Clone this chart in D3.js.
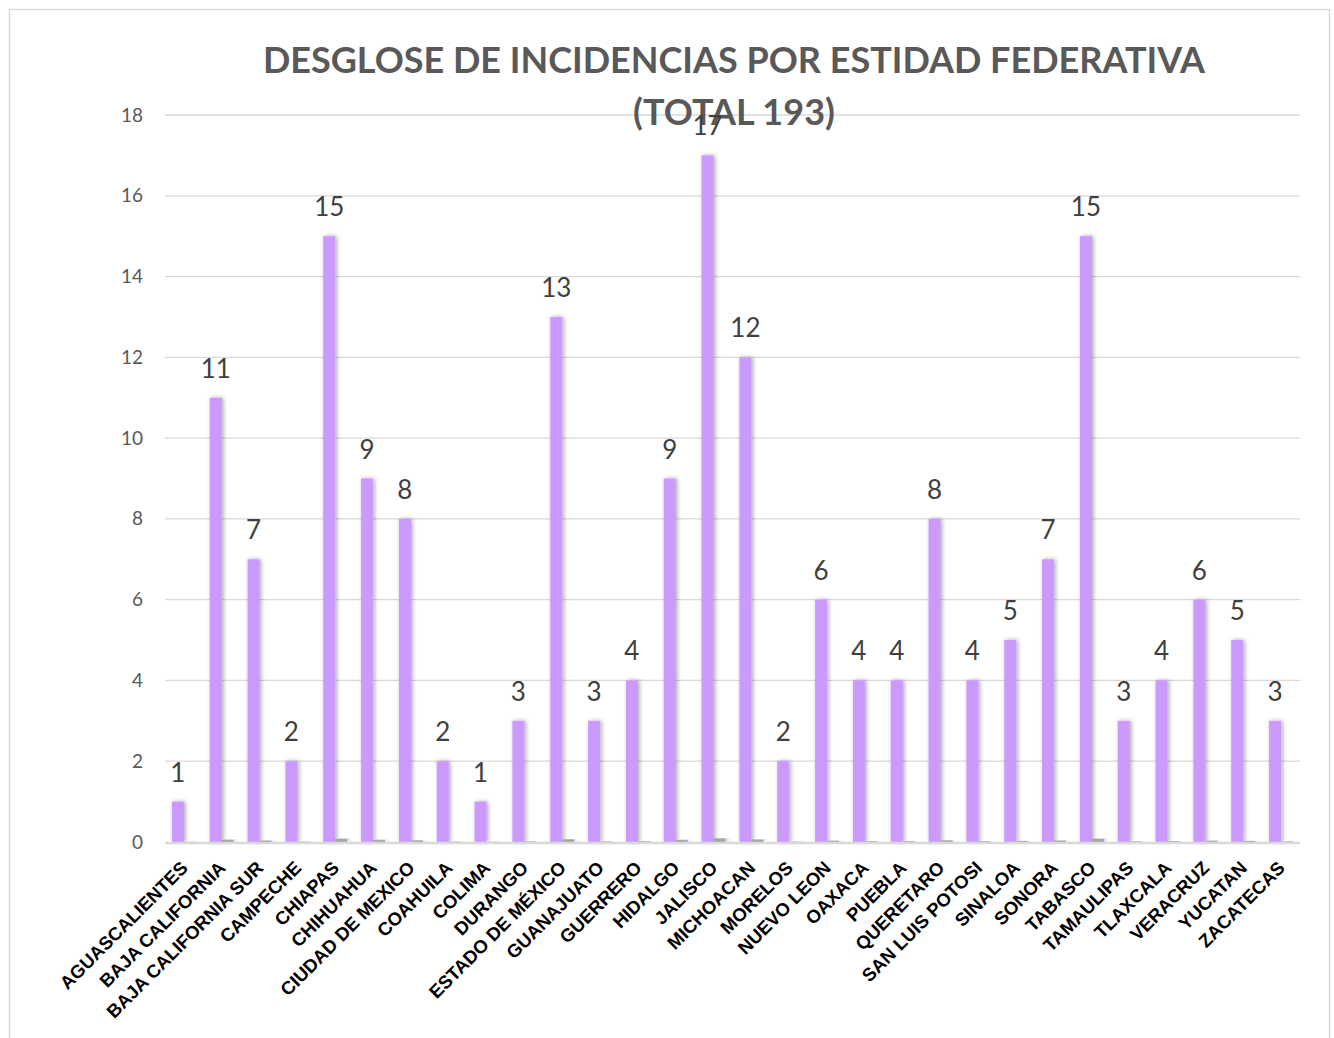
<!DOCTYPE html>
<html>
<head>
<meta charset="utf-8">
<script src="https://cdn.jsdelivr.net/npm/d3@7"></script>
<style>
  body { margin: 0; background: #fff; }
  svg { display: block; }
</style>
</head>
<body>
<div id="chart"></div>
<script>
const categories = ["AGUASCALIENTES","BAJA CALIFORNIA","BAJA CALIFORNIA SUR","CAMPECHE","CHIAPAS","CHIHUAHUA","CIUDAD DE MEXICO","COAHUILA","COLIMA","DURANGO","ESTADO DE MÉXICO","GUANAJUATO","GUERRERO","HIDALGO","JALISCO","MICHOACAN","MORELOS","NUEVO LEON","OAXACA","PUEBLA","QUERETARO","SAN LUIS POTOSI","SINALOA","SONORA","TABASCO","TAMAULIPAS","TLAXCALA","VERACRUZ","YUCATAN","ZACATECAS"];
const incidencias = [1,11,7,2,15,9,8,2,1,3,13,3,4,9,17,12,2,6,4,4,8,4,5,7,15,3,4,6,5,3];
const porcentaje = [0.005,0.057,0.036,0.010,0.078,0.047,0.041,0.010,0.005,0.016,0.067,0.016,0.021,0.047,0.088,0.062,0.010,0.031,0.021,0.021,0.041,0.021,0.026,0.036,0.078,0.016,0.021,0.031,0.026,0.016];
const yTicks = [0,2,4,6,8,10,12,14,16,18];
const titleLines = ["DESGLOSE DE INCIDENCIAS POR ESTIDAD FEDERATIVA", "(TOTAL 193)"];

const W = 1334, H = 1038;
const plot = {left: 165, right: 1300, top: 115, bottom: 842};

const svg = d3.select("#chart").append("svg").attr("width", W).attr("height", H);

const defs = svg.append("defs");
const f = defs.append("filter").attr("id","shadow").attr("x","-100%").attr("y","-10%").attr("width","300%").attr("height","120%");
f.append("feDropShadow").attr("dx",1.5).attr("dy",0).attr("stdDeviation",2).attr("flood-color","#000").attr("flood-opacity",0.35);

svg.append("rect").attr("x",9.5).attr("y",9.5).attr("width",1320).attr("height",1040)
  .attr("fill","#fff").attr("stroke","#d9d9d9").attr("stroke-width",1.5);

const x = d3.scaleBand().domain(categories).range([plot.left, plot.right]).paddingInner(0.365).paddingOuter(0.1825);
const xs = d3.scaleBand().domain(["inc","pct"]).range([0, x.bandwidth()]);
const y = d3.scaleLinear().domain([0,18]).range([plot.bottom, plot.top]);

// gridlines
svg.append("g").selectAll("line").data(yTicks.filter(d=>d>0)).join("line")
  .attr("x1",plot.left).attr("x2",plot.right)
  .attr("y1",d=>y(d)).attr("y2",d=>y(d))
  .attr("stroke","#d9d9d9").attr("stroke-width",1.3);

// y axis labels
const yAxis = d3.axisLeft(y).tickValues(yTicks).tickSize(0).tickPadding(0);
const ya = svg.append("g").attr("transform",`translate(143,0)`).call(yAxis);
ya.select(".domain").remove();
ya.selectAll("text").attr("font-family","Lato, 'Open Sans', sans-serif").attr("font-size",19).attr("fill","#595959");

// title
svg.append("g").selectAll("text").data(titleLines).join("text")
  .attr("x",734).attr("y",(d,i)=>73+i*52)
  .attr("text-anchor","middle")
  .attr("font-family","Lato, 'Open Sans', sans-serif").attr("font-weight","bold")
  .attr("font-size",36).attr("fill","#595959")
  .text(d=>d);

// bars
const groups = svg.append("g").selectAll("g").data(categories).join("g")
  .attr("transform",d=>`translate(${x(d)},0)`);

groups.append("rect")
  .attr("x",xs("inc")).attr("width",xs.bandwidth())
  .attr("y",(d,i)=>y(incidencias[i])).attr("height",(d,i)=>y(0)-y(incidencias[i]))
  .attr("fill","#cc99ff").attr("filter","url(#shadow)");

groups.append("rect")
  .attr("x",xs("pct")).attr("width",xs.bandwidth())
  .attr("y",(d,i)=>y(porcentaje[i])).attr("height",(d,i)=>y(0)-y(porcentaje[i]))
  .attr("fill","#a5a5a5").attr("filter","url(#shadow)");

// axis line
svg.append("line").attr("x1",plot.left).attr("x2",plot.right)
  .attr("y1",plot.bottom+1).attr("y2",plot.bottom+1)
  .attr("stroke","#d9d9d9").attr("stroke-width",2.5);

// data labels
groups.append("text")
  .attr("x",xs("inc")+xs.bandwidth()/2)
  .attr("y",(d,i)=>y(incidencias[i])-20)
  .attr("text-anchor","middle")
  .attr("font-family","Lato, 'Open Sans', sans-serif").attr("font-size",26).attr("fill","#404040")
  .text((d,i)=>incidencias[i]);

// x labels
svg.append("g").selectAll("text").data(categories).join("text")
  .attr("transform",d=>`translate(${x(d)+xs("inc")+xs.bandwidth()/2+11},${plot.bottom+27}) rotate(-45)`)
  .attr("text-anchor","end")
  .attr("font-family","'Liberation Sans', Arial, sans-serif").attr("font-weight","bold")
  .attr("font-size",18.5).attr("fill","#000")
  .text(d=>d);
</script>
</body>
</html>
